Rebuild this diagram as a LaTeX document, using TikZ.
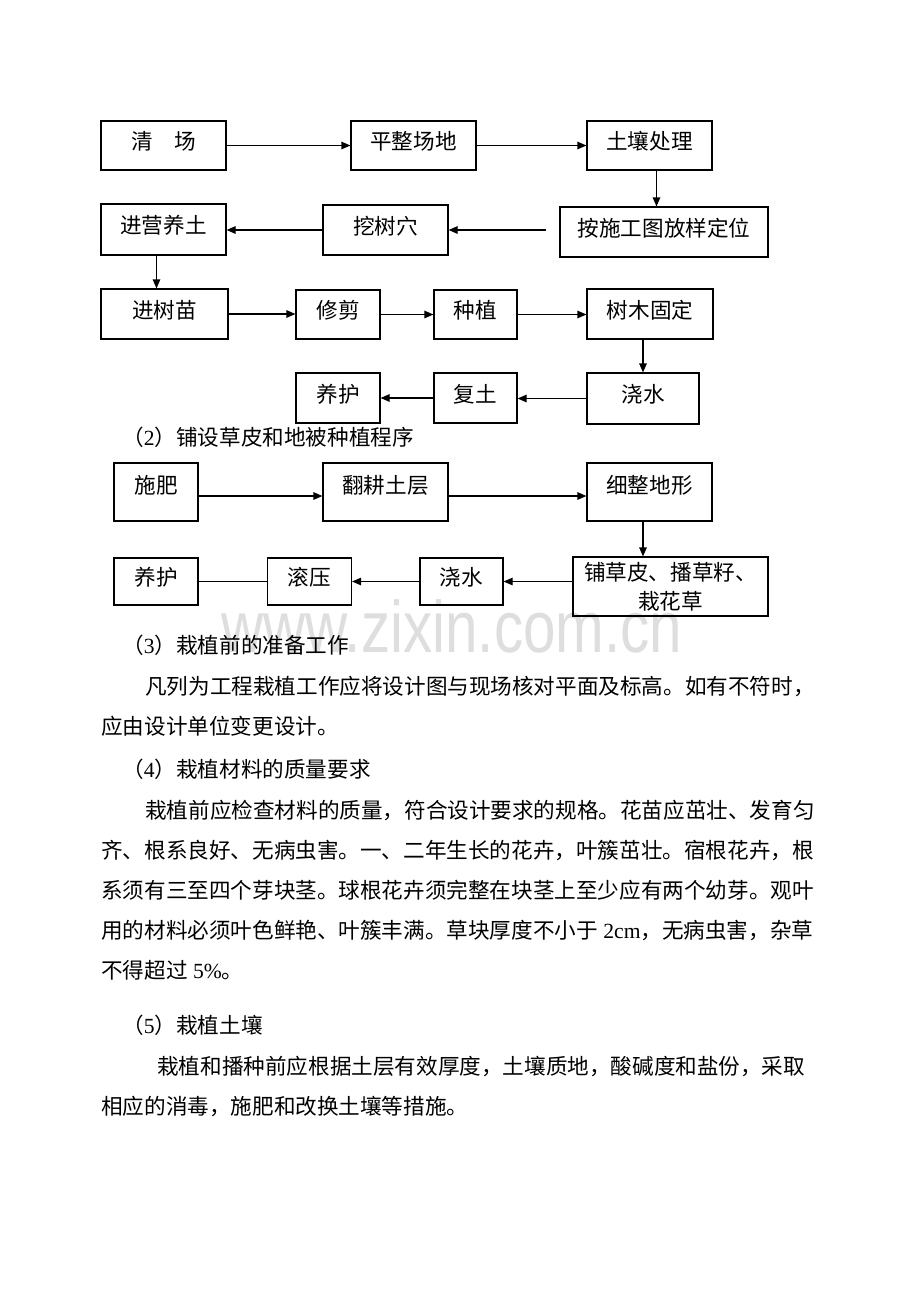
\documentclass[tikz,border=0pt]{standalone}
\usepackage{fontspec}
\setmainfont{Noto Sans CJK SC}
\newfontfamily\latfont{Liberation Serif}
\newfontfamily\wmfont{Liberation Sans}
\usetikzlibrary{arrows.meta}
\newcommand{\dig}[1]{{\latfont #1}}

\begin{document}
\begin{tikzpicture}
  [x=1pt, y=-1pt,
   font=\fontsize{21.6pt}{29pt}\selectfont,
   pbox/.style={draw, line width=1.2pt, inner sep=0, minimum height=49pt},
   tbox/.style={pbox, text height=12pt, text depth=4pt},
   flow/.style={line width=1.2pt, -{Triangle[length=9pt, width=7.5pt]}},
   txt/.style={anchor=base west, inner sep=0},
   wmark/.style={anchor=base, inner sep=0, text=black!13, xscale=0.8, transform shape,
                 font=\wmfont\fontsize{73pt}{73pt}\selectfont}]

  \path[fill=white] (0,0) rectangle (920,1302);
  \useasboundingbox (0,0) rectangle (920,1302);

  % watermark
  \node[wmark] (wm) at (452,652) {www.zixin.com.cn};

  % planting flow, row 1
  \node[tbox, minimum width=125pt] (qc) at (163.5,145.5) {清\quad 场};
  \node[tbox, minimum width=125pt] (pz) at (413.5,145.5) {平整场地};
  \node[tbox, minimum width=125pt] (tr) at (649.5,145.5) {土壤处理};
  \draw[flow] (qc) -- (pz);
  \draw[flow] (pz) -- (tr);

  % row 2
  \node[tbox, minimum width=125pt, minimum height=51pt] (jy) at (163.5,229.5) {进营养土};
  \node[tbox, minimum width=125pt, minimum height=50pt] (wx) at (385.5,230) {挖树穴};
  \node[tbox, minimum width=208pt, minimum height=50pt] (af) at (664,232) {按施工图放样定位};
  \draw[flow] ([xshift=7pt]tr.south) -- ([xshift=7pt]tr.south |- af.north);
  \draw[flow] ([xshift=-13pt]af.west |- wx.east) -- (wx.east);
  \draw[flow] (wx.west) -- (wx.west -| jy.east);

  % row 3
  \node[tbox, minimum width=127pt, minimum height=50pt] (js) at (164.5,314) {进树苗};
  \node[tbox, minimum width=84pt] (xj) at (338,314.5) {修剪};
  \node[tbox, minimum width=83pt] (zz) at (475.5,314.5) {种植};
  \node[tbox, minimum width=126pt, minimum height=50pt] (sm) at (650,314) {树木固定};
  \draw[flow] ([xshift=-7pt]jy.south) -- ([xshift=-7pt]jy.south |- js.north);
  \draw[flow] (js.east) -- (js.east -| xj.west);
  \draw[flow] (xj) -- (zz);
  \draw[flow] (zz.east) -- (zz.east -| sm.west);

  % row 4
  \node[tbox, minimum width=84pt, minimum height=50pt] (yh) at (338,398) {养护};
  \node[tbox, minimum width=83pt, minimum height=50pt] (ft) at (475.5,398) {复土};
  \node[tbox, minimum width=112pt, minimum height=51pt] (jsh) at (643,398.5) {浇水};
  \draw[flow] (jsh.north |- sm.south) -- (jsh.north);
  \draw[flow] (jsh.west) -- (jsh.west -| ft.east);
  \draw[flow] (ft) -- (yh);

  \node[txt] (h2) at (122,445) {（\dig{2}）铺设草皮和地被种植程序};

  % lawn flow, row 1
  \node[tbox, text depth=10pt, minimum width=84pt, minimum height=58pt] (sf) at (156,492) {施肥};
  \node[tbox, text depth=10pt, minimum width=125pt, minimum height=58pt] (fg) at (385.5,492) {翻耕土层};
  \node[tbox, text depth=10pt, minimum width=125pt, minimum height=58pt] (xz) at (649.5,492) {细整地形};
  \draw[flow] ([yshift=-4pt]sf.east) -- ([yshift=-4pt]fg.west);
  \draw[flow] ([yshift=-4pt]fg.east) -- ([yshift=-4pt]xz.west);

  % row 2
  \node[tbox, minimum width=84pt, minimum height=47pt] (yh2) at (156,581.5) {养护};
  \node[tbox, minimum width=84pt, minimum height=47pt] (gy) at (309.5,581.5) {滚压};
  \node[tbox, minimum width=83pt, minimum height=47pt] (js2) at (461.5,581.5) {浇水};
  \node[pbox, align=center, minimum width=195pt, minimum height=59pt] (pc) at (670.5,586.5)
       {铺草皮、播草籽、\\栽花草};
  \draw[flow] ([xshift=-6.5pt]xz.south) -- ([xshift=-6.5pt]xz.south |- pc.north);
  \draw[flow] (pc.west |- js2.east) -- (js2.east);
  \draw[flow] (js2) -- (gy);
  \draw[line width=1.2pt] (gy) -- (yh2);

  % text below the charts
  \node[txt] (h3) at (122,653) {（\dig{3}）栽植前的准备工作};
  \node[txt] (p1) at (145,694) {凡列为工程栽植工作应将设计图与现场核对平面及标高。如有不符时，};
  \node[txt] (p2) at (101,734) {应由设计单位变更设计。};
  \node[txt] (h4) at (122,777) {（\dig{4}）栽植材料的质量要求};
  \node[txt] (p3) at (145,818) {栽植前应检查材料的质量，符合设计要求的规格。花苗应茁壮、发育匀};
  \node[txt] (p4) at (101,858) {齐、根系良好、无病虫害。一、二年生长的花卉，叶簇茁壮。宿根花卉，根};
  \node[txt] (p5) at (101,898) {系须有三至四个芽块茎。球根花卉须完整在块茎上至少应有两个幼芽。观叶};
  \node[txt] (p6) at (101,938) {用的材料必须叶色鲜艳、叶簇丰满。草块厚度不小于\dig{ 2cm}，无病虫害，杂草};
  \node[txt] (p7) at (101,978) {不得超过\dig{ 5\%}。};
  \node[txt] (h5) at (122,1033) {（\dig{5}）栽植土壤};
  \node[txt] (p8) at (157,1074) {栽植和播种前应根据土层有效厚度，土壤质地，酸碱度和盐份，采取};
  \node[txt] (p9) at (101,1114) {相应的消毒，施肥和改换土壤等措施。};

\end{tikzpicture}
\end{document}
